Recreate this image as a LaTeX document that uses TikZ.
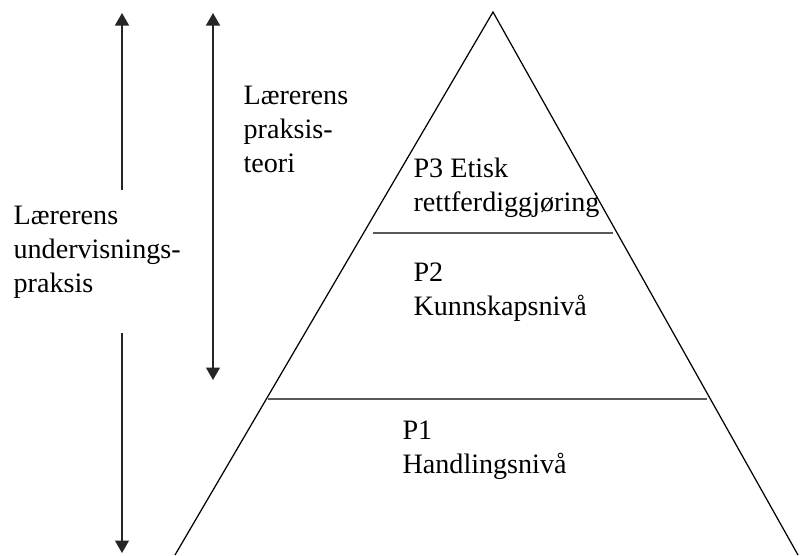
\documentclass[tikz,border=0pt]{standalone}
\usepackage{fontspec}
\setmainfont{Liberation Serif}
\usetikzlibrary{arrows.meta, positioning}

\begin{document}
\begin{tikzpicture}[x=0.02cm, y=-0.02cm, >={Triangle[width=0.28cm, length=0.25cm]}, line width=0.7pt]
    % Stiler for tekst, nivålinjer og piler
    \tikzstyle{tekst} = [anchor=base west, align=left, inner sep=0pt, font=\fontsize{16}{19.3}\selectfont]
    \tikzstyle{niva} = [line width=1pt, black!65]
    \tikzstyle{pil} = [black!85]

    \useasboundingbox (0,0) rectangle (802,555);

    % Pyramiden
    \coordinate (topp) at (493,12);
    \coordinate (venstre) at (175,555);
    \coordinate (hoyre) at (798,555);
    \draw (venstre) -- (topp) -- (hoyre);

    % Nivålinjer
    \coordinate (n3a) at (373,233);
    \coordinate (n3b) at (613,233);
    \coordinate (n2a) at (268,399);
    \coordinate (n2b) at (707,399);
    \draw[niva] (n3a) -- (n3b);
    \draw[niva] (n2a) -- (n2b);

    % Tekster (plassert etter siste linjes grunnlinje)
    \node[tekst] (teori) at (243,172) {Lærerens\\praksis-\\teori};
    \node[tekst] (undervisning) at (13,292) {Lærerens\\undervisnings-\\praksis};
    \node[tekst] (p3) at (413,211) {P3 Etisk\\rettferdiggjøring};
    \node[tekst] (p2) at (413,315) {P2\\Kunnskapsnivå};
    \node[tekst] (p1) at (402,473) {P1\\Handlingsnivå};

    % Piler
    \coordinate (a1topp) at (122,13);
    \coordinate (a1brudd) at (122,190);
    \coordinate (a1fortsett) at (122,333);
    \coordinate (a1bunn) at (122,553);
    \coordinate (a2topp) at (213,13);
    \coordinate (a2bunn) at (213,380);
    \draw[pil, ->] (a1brudd) -- (a1topp);
    \draw[pil, ->] (a1fortsett) -- (a1bunn); % avbrutt av teksten
    \draw[pil, <->] (a2topp) -- (a2bunn);

\end{tikzpicture}
\end{document}
